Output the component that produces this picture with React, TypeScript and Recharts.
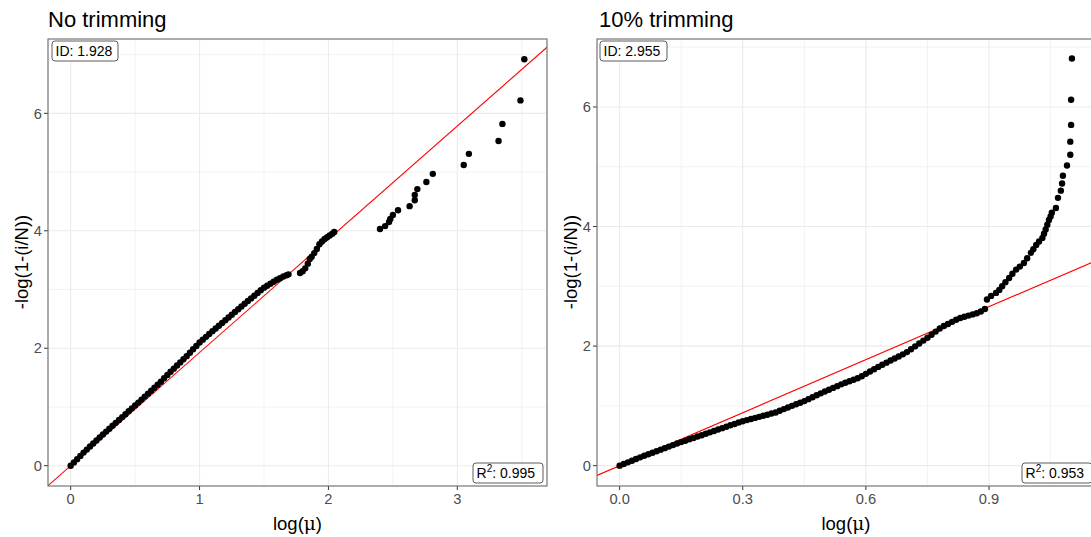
import React from 'react';
import {
  ScatterChart,
  Scatter,
  XAxis,
  YAxis,
  CartesianGrid,
  ReferenceLine,
} from 'recharts';

// "No trimming" panel: log(mu) vs -log(1-(i/N))
const noTrimX = [
  0, 0.025, 0.05, 0.075, 0.1, 0.125, 0.15, 0.175, 0.2, 0.225, 0.25, 0.275, 0.3, 0.325, 0.35,
  0.375, 0.4, 0.425, 0.45, 0.475, 0.5, 0.525, 0.55, 0.575, 0.6, 0.625, 0.65, 0.675, 0.7,
  0.725, 0.75, 0.775, 0.8, 0.825, 0.85, 0.875, 0.9, 0.925, 0.95, 0.975, 1.0, 1.025, 1.05,
  1.075, 1.1, 1.125, 1.15, 1.175, 1.2, 1.225, 1.25, 1.275, 1.3, 1.325, 1.35, 1.375, 1.4,
  1.425, 1.45, 1.475, 1.5, 1.525, 1.55, 1.575, 1.6, 1.625, 1.65, 1.675, 1.69,
  1.78, 1.8, 1.82, 1.84, 1.855, 1.87, 1.89, 1.91, 1.93, 1.95, 1.97, 1.99, 2.01, 2.03, 2.045,
  2.4, 2.44, 2.47, 2.48, 2.5, 2.54, 2.63, 2.67, 2.67, 2.69, 2.76, 2.81, 3.05, 3.09, 3.32,
  3.35, 3.49, 3.52,
];
const noTrimY = [
  0, 0.056, 0.111, 0.167, 0.223, 0.274, 0.326, 0.377, 0.429, 0.481, 0.532, 0.58, 0.63, 0.679,
  0.729, 0.777, 0.827, 0.876, 0.926, 0.976, 1.024, 1.074, 1.125, 1.176, 1.227, 1.277, 1.328,
  1.378, 1.43, 1.488, 1.546, 1.599, 1.652, 1.706, 1.759, 1.812, 1.865, 1.923, 1.982, 2.04,
  2.098, 2.146, 2.194, 2.243, 2.291, 2.337, 2.383, 2.43, 2.477, 2.524, 2.57, 2.618, 2.664,
  2.711, 2.758, 2.804, 2.849, 2.895, 2.941, 2.987, 3.032, 3.065, 3.098, 3.132, 3.165, 3.193,
  3.221, 3.244, 3.258,
  3.28, 3.31, 3.36, 3.44, 3.52, 3.56, 3.62, 3.69, 3.77, 3.82, 3.86, 3.89, 3.92, 3.95, 3.98,
  4.03, 4.08, 4.15, 4.2, 4.27, 4.35, 4.42, 4.52, 4.61, 4.71, 4.83, 4.97, 5.12, 5.31, 5.53,
  5.82, 6.22, 6.92,
];

// "10% trimming" panel
const trimX = [
  0, 0.01, 0.02, 0.03, 0.04, 0.05, 0.06, 0.07, 0.08, 0.09, 0.1, 0.11, 0.12, 0.13, 0.14, 0.15,
  0.16, 0.17, 0.18, 0.19, 0.2, 0.21, 0.22, 0.23, 0.24, 0.25, 0.26, 0.27, 0.28, 0.29, 0.3,
  0.31, 0.32, 0.33, 0.34, 0.35, 0.36, 0.37, 0.38, 0.39, 0.4, 0.41, 0.42, 0.43, 0.44, 0.45,
  0.46, 0.47, 0.48, 0.49, 0.5, 0.51, 0.52, 0.53, 0.54, 0.55, 0.56, 0.57, 0.58, 0.59, 0.6,
  0.61, 0.62, 0.63, 0.64, 0.65, 0.66, 0.67, 0.68, 0.69, 0.7, 0.71, 0.72, 0.73, 0.74, 0.75,
  0.76, 0.77, 0.78, 0.79, 0.8, 0.81, 0.82, 0.83, 0.84, 0.85, 0.86, 0.87, 0.88, 0.89,
  0.895, 0.905, 0.917, 0.925, 0.932, 0.94, 0.949, 0.957, 0.966, 0.975, 0.985, 0.993, 1.002,
  1.008, 1.015, 1.022, 1.03, 1.034, 1.038, 1.042, 1.046, 1.05, 1.053, 1.063, 1.068, 1.075,
  1.078, 1.08, 1.09, 1.098, 1.098, 1.1, 1.1, 1.102,
];
const trimY = [
  0, 0.028, 0.056, 0.083, 0.111, 0.139, 0.165, 0.191, 0.217, 0.242, 0.268, 0.293, 0.319,
  0.344, 0.37, 0.394, 0.417, 0.441, 0.464, 0.487, 0.51, 0.534, 0.557, 0.581, 0.604, 0.628,
  0.651, 0.675, 0.698, 0.722, 0.744, 0.762, 0.78, 0.799, 0.817, 0.835, 0.853, 0.872, 0.89,
  0.918, 0.946, 0.974, 1.001, 1.027, 1.053, 1.08, 1.113, 1.145, 1.178, 1.21, 1.241, 1.271,
  1.301, 1.33, 1.36, 1.386, 1.411, 1.437, 1.462, 1.497, 1.536, 1.575, 1.613, 1.652, 1.688,
  1.723, 1.758, 1.793, 1.827, 1.862, 1.9, 1.948, 1.996, 2.044, 2.092, 2.14, 2.191, 2.243,
  2.295, 2.337, 2.371, 2.406, 2.44, 2.47, 2.49, 2.51, 2.53, 2.55, 2.58, 2.62,
  2.78, 2.84, 2.89, 2.94, 3.0, 3.07, 3.14, 3.21, 3.28, 3.33, 3.39, 3.47, 3.56, 3.62, 3.69,
  3.75, 3.81, 3.88, 3.95, 4.03, 4.11, 4.17, 4.23, 4.31, 4.48, 4.6, 4.72, 4.85, 5.02, 5.2,
  5.42, 5.7, 6.12, 6.81,
];

const noTrimXTicks = [0, 1, 2, 3];
const noTrimXMinor = [0.5, 1.5, 2.5, 3.5];
const trimXTicks = [0, 0.3, 0.6, 0.9];
const trimXMinor = [0.15, 0.45, 0.75, 1.05];
const yTicks = [0, 2, 4, 6];
const yMinor = [1, 3, 5, 7];

const FONT = '"Liberation Sans", Arial, Helvetica, sans-serif';
const GRID = '#ebebeb';
const TICK_TEXT = '#4d4d4d';

const Dot = (p: any) => <circle cx={p.cx} cy={p.cy} r={3.2} fill="#000" />;

interface PanelProps {
  xs: number[];
  ys: number[];
  xDomain: [number, number];
  yDomain: [number, number];
  xTicks: number[];
  xMinor: number[];
  slope: number;
  marginRight: number;
  tickFmt?: (v: number) => string;
}

function Panel({ xs, ys, xDomain, yDomain, xTicks, xMinor, slope, marginRight, tickFmt }: PanelProps) {
  const data = xs.map((x, i) => ({ x, y: ys[i] }));
  const fit = [
    { x: xDomain[0], y: slope * xDomain[0] },
    { x: xDomain[1], y: slope * xDomain[1] },
  ];
  return (
    <ScatterChart width={560} height={537} margin={{ top: 39, right: marginRight, bottom: 0, left: 0 }}>
      <CartesianGrid stroke={GRID} strokeWidth={1.1} />
      {xMinor.map((v) => (
        <ReferenceLine key={`mx-${v}`} x={v} stroke={GRID} strokeWidth={0.6} />
      ))}
      {yMinor.map((v) => (
        <ReferenceLine key={`my-${v}`} y={v} stroke={GRID} strokeWidth={0.6} />
      ))}
      <XAxis
        type="number"
        dataKey="x"
        domain={xDomain}
        ticks={xTicks}
        allowDataOverflow
        height={51}
        axisLine={false}
        tickSize={4}
        tickMargin={4}
        tickLine={{ stroke: '#333333', strokeWidth: 1 }}
        tick={{ fontSize: 14.7, fill: TICK_TEXT, fontFamily: FONT }}
        tickFormatter={tickFmt}
        interval={0}
      />
      <YAxis
        type="number"
        dataKey="y"
        domain={yDomain}
        ticks={yTicks}
        allowDataOverflow
        width={48}
        axisLine={false}
        tickSize={4}
        tickMargin={2}
        tickLine={{ stroke: '#333333', strokeWidth: 1 }}
        tick={{ fontSize: 14.7, fill: TICK_TEXT, fontFamily: FONT }}
        interval={0}
      />
      <Scatter data={data} shape={Dot} isAnimationActive={false} />
      <ReferenceLine segment={fit} stroke="#ff0000" strokeWidth={1.1} ifOverflow="hidden" />
    </ScatterChart>
  );
}

function LabelBox({ x, y, w, children }: { x: number; y: number; w: number; children: React.ReactNode }) {
  return (
    <g>
      <rect x={x} y={y} width={w} height={20} rx={3} fill="#fff" stroke="#333" strokeWidth={0.8} />
      <text x={x + 3.5} y={y + 15} fontSize={14} fontFamily={FONT} fill="#000">
        {children}
      </text>
    </g>
  );
}

export default function App() {
  return (
    <div
      style={{
        position: 'absolute',
        left: 0,
        top: 0,
        width: 1091,
        height: 537,
        overflow: 'hidden',
        background: '#fff',
        fontFamily: FONT,
      }}
    >
      <div style={{ position: 'absolute', left: 0, top: 0 }}>
        <Panel
          xs={noTrimX}
          ys={noTrimY}
          xDomain={[-0.176, 3.696]}
          yDomain={[-0.346, 7.266]}
          xTicks={noTrimXTicks}
          xMinor={noTrimXMinor}
          slope={1.928}
          marginRight={13}
        />
      </div>
      <div style={{ position: 'absolute', left: 549, top: 0 }}>
        <Panel
          xs={trimX}
          ys={trimY}
          xDomain={[-0.0551, 1.157]}
          yDomain={[-0.34, 7.137]}
          xTicks={trimXTicks}
          xMinor={trimXMinor}
          slope={2.955}
          marginRight={14.5}
          tickFmt={(v) => v.toFixed(1)}
        />
      </div>
      <svg width={1091} height={537} style={{ position: 'absolute', left: 0, top: 0, pointerEvents: 'none' }}>
        {/* panel borders */}
        <rect x={48} y={39} width={499} height={447} fill="none" stroke="#707070" strokeWidth={1.1} />
        <rect x={597} y={39} width={497.5} height={447} fill="none" stroke="#707070" strokeWidth={1.1} />

        <text x={48} y={27} fontSize={22} fontFamily={FONT} fill="#000">No trimming</text>
        <text x={599} y={27} fontSize={22} fontFamily={FONT} fill="#000">10% trimming</text>

        <text x={297.5} y={530} fontSize={18.5} fontFamily={FONT} textAnchor="middle" fill="#000">
          log(<tspan fontFamily='"DejaVu Serif", serif'>μ</tspan>)
        </text>
        <text x={846} y={530} fontSize={18.5} fontFamily={FONT} textAnchor="middle" fill="#000">
          log(<tspan fontFamily='"DejaVu Serif", serif'>μ</tspan>)
        </text>

        <text x={28} y={262} fontSize={18.5} fontFamily={FONT} textAnchor="middle" fill="#000" transform="rotate(-90 28 262)">
          -log(1-(i/N))
        </text>
        <text x={577} y={262} fontSize={18.5} fontFamily={FONT} textAnchor="middle" fill="#000" transform="rotate(-90 577 262)">
          -log(1-(i/N))
        </text>

        <LabelBox x={52} y={41} w={66}>ID: 1.928</LabelBox>
        <LabelBox x={600} y={41} w={67}>ID: 2.955</LabelBox>
        <LabelBox x={473} y={463} w={70}>
          R<tspan dy={-6} fontSize={10}>2</tspan>
          <tspan dy={6}>: 0.995</tspan>
        </LabelBox>
        <LabelBox x={1022} y={463} w={70}>
          R<tspan dy={-6} fontSize={10}>2</tspan>
          <tspan dy={6}>: 0.953</tspan>
        </LabelBox>
      </svg>
    </div>
  );
}
